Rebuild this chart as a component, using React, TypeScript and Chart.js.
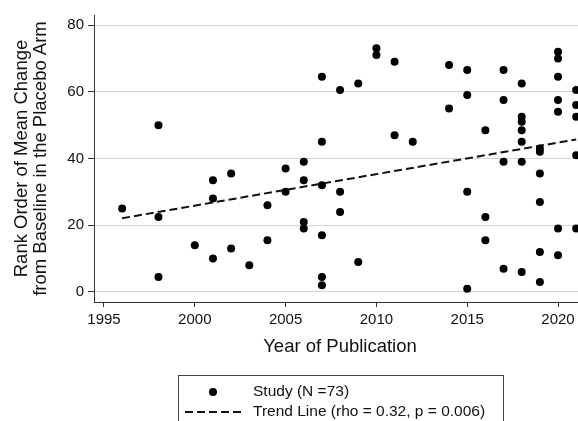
import React, { useEffect, useRef } from "react";
import { Chart, registerables } from "chart.js";

Chart.register(...registerables);

// ---- data ----
const studyYears = [
  1996,
  1998, 1998, 1998,
  2000,
  2001, 2001, 2001,
  2002, 2002,
  2003,
  2004, 2004,
  2005, 2005,
  2006, 2006, 2006, 2006,
  2007, 2007, 2007, 2007, 2007, 2007,
  2008, 2008, 2008,
  2009, 2009,
  2010, 2010,
  2011, 2011,
  2012,
  2014, 2014,
  2015, 2015, 2015, 2015,
  2016, 2016, 2016,
  2017, 2017, 2017, 2017,
  2018, 2018, 2018, 2018, 2018, 2018, 2018,
  2019, 2019, 2019, 2019, 2019, 2019,
  2020, 2020, 2020, 2020, 2020, 2020, 2020,
  2021, 2021, 2021, 2021, 2021,
];
const studyRanks = [
  25,
  50, 22.5, 4.5,
  14,
  33.5, 28, 10,
  35.5, 13,
  8,
  26, 15.5,
  37, 30,
  39, 33.5, 21, 19,
  64.5, 45, 32, 17, 4.5, 2,
  60.5, 30, 24,
  62.5, 9,
  73, 71,
  69, 47,
  45,
  68, 55,
  66.5, 59, 30, 1,
  48.5, 22.5, 15.5,
  66.5, 57.5, 39, 7,
  62.5, 52.5, 51, 48.5, 45, 39, 6,
  43, 42, 35.5, 27, 12, 3,
  72, 70, 64.5, 57.5, 54, 19, 11,
  60.5, 56, 52.5, 41, 19,
];
const trendYears = [1996, 2021];
const trendValues = [22.1, 45.7];
const xTicks = [1995, 2000, 2005, 2010, 2015, 2020];
const yTicks = [0, 20, 40, 60, 80];
const studyLabel = "Study (N =73)";
const trendLabel = "Trend Line (rho = 0.32, p = 0.006)";
const xTitle = "Year of Publication";
const yTitle = ["Rank Order of Mean Change", "from Baseline in the Placebo Arm"];

const FONT = "'Liberation Sans', Arial, Helvetica, sans-serif";
const TEXT = "#111111";
const AXIS = "#333333";
const GRID = "#d4d4d4";

const legendBoxPlugin = {
  id: "legendBox",
  afterDraw(chart: any) {
    const ctx = chart.ctx;
    const ds = chart.data.datasets;
    ctx.save();
    ctx.strokeStyle = "#444";
    ctx.lineWidth = 1;
    ctx.setLineDash([]);
    ctx.strokeRect(178.5, 375.5, 325, 80);
    // row 1: dot
    ctx.fillStyle = "#000";
    ctx.beginPath();
    ctx.arc(213, 392, 4, 0, Math.PI * 2);
    ctx.fill();
    // row 2: dashed line
    ctx.strokeStyle = "#111";
    ctx.lineWidth = 2;
    ctx.setLineDash([8, 4]);
    ctx.beginPath();
    ctx.moveTo(185, 412);
    ctx.lineTo(242, 412);
    ctx.stroke();
    ctx.setLineDash([]);
    ctx.fillStyle = TEXT;
    ctx.font = `15.5px ${FONT}`;
    ctx.textAlign = "left";
    ctx.textBaseline = "middle";
    ctx.fillText(ds[0].label, 253, 392);
    ctx.fillText(ds[1].label, 253, 412);
    ctx.restore();
  },
};

export default function App() {
  const ref = useRef<HTMLCanvasElement | null>(null);

  useEffect(() => {
    if (!ref.current) return;
    const chart = new Chart(ref.current, {
      type: "scatter",
      data: {
        datasets: [
          {
            label: studyLabel,
            data: studyYears.map((x, i) => ({ x, y: studyRanks[i] })),
            backgroundColor: "#000",
            borderWidth: 0,
            pointRadius: 4,
            pointHoverRadius: 4,
          },
          {
            label: trendLabel,
            data: trendYears.map((x, i) => ({ x, y: trendValues[i] })),
            showLine: true,
            borderColor: "#111",
            borderWidth: 2,
            borderDash: [8, 4],
            pointRadius: 0,
            fill: false,
          } as any,
        ],
      },
      options: {
        animation: false,
        responsive: false,
        events: [],
        layout: { padding: { top: 15, right: 14, bottom: 78, left: 0 } },
        plugins: {
          legend: { display: false },
          tooltip: { enabled: false },
        },
        scales: {
          x: {
            type: "linear",
            min: 1994.45,
            max: 2021.54,
            afterFit: (s: any) => {
              s.height = 60;
            },
            afterBuildTicks: (s: any) => {
              s.ticks = xTicks.map((v) => ({ value: v }));
            },
            grid: {
              drawOnChartArea: false,
              drawTicks: true,
              tickLength: 5,
              tickColor: AXIS,
              tickWidth: 1,
            },
            border: { display: true, color: AXIS, width: 1 },
            ticks: {
              color: TEXT,
              font: { family: FONT, size: 15 },
              padding: 4,
              maxRotation: 0,
              autoSkip: false,
              callback: (v: any) => String(v),
            },
            title: {
              display: true,
              text: xTitle,
              color: TEXT,
              font: { family: FONT, size: 18.5, lineHeight: "20px" },
              padding: { top: 0, bottom: 5 },
            },
          },
          y: {
            type: "linear",
            min: -3,
            max: 83,
            afterFit: (s: any) => {
              s.width = 94;
            },
            afterBuildTicks: (s: any) => {
              s.ticks = yTicks.map((v) => ({ value: v }));
            },
            grid: {
              color: GRID,
              lineWidth: 1,
              drawTicks: true,
              tickLength: 6,
              tickColor: AXIS,
              tickWidth: 1,
            },
            border: { display: true, color: AXIS, width: 1 },
            ticks: {
              color: TEXT,
              font: { family: FONT, size: 15 },
              padding: 4,
              autoSkip: false,
              callback: (v: any) => String(v),
            },
            title: {
              display: true,
              text: yTitle,
              color: TEXT,
              font: { family: FONT, size: 18.5, lineHeight: "19px" },
              padding: { top: 12, bottom: 0 },
            },
          },
        },
      },
      plugins: [legendBoxPlugin],
    });
    return () => chart.destroy();
  }, []);

  return (
    <div
      style={{
        position: "fixed",
        left: 0,
        top: 0,
        width: 578,
        height: 421,
        overflow: "hidden",
        background: "#fff",
      }}
    >
      <canvas
        ref={ref}
        width={600}
        height={440}
        style={{ width: 600, height: 440, display: "block" }}
      />
    </div>
  );
}
